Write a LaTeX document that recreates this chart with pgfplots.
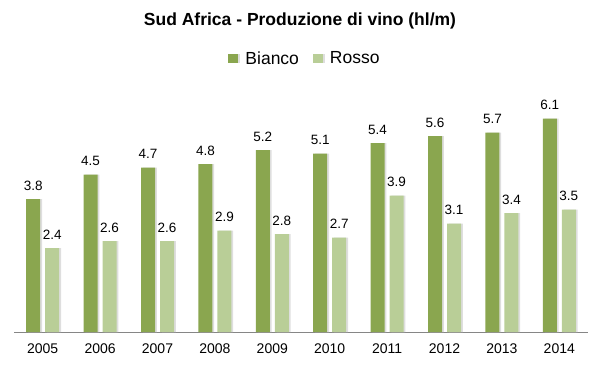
\documentclass[border=0pt]{standalone}
\usepackage{pgfplots}
\pgfplotsset{compat=1.18}
\usepackage{fontspec}
\setmainfont{Liberation Sans}
\definecolor{bianco}{HTML}{8AA64F}
\definecolor{rosso}{HTML}{B9CE97}
\definecolor{axgray}{HTML}{868686}
\begin{document}
\begin{tikzpicture}[x=1pt,y=1pt]
\useasboundingbox (-14,-35) rectangle (588,332);
\begin{axis}[
  at={(0,0)}, anchor=south west,
  scale only axis, width=574pt, height=245pt,
  xmin=-0.5, xmax=9.5, ymin=0, ymax=7,
  axis y line=none,
  axis x line*=bottom,
  x axis line style={color=axgray, line width=1pt},
  xtick={0,...,9},
  xticklabels={2005,2006,2007,2008,2009,2010,2011,2012,2013,2014},
  major tick length=0pt,
  ytick=\empty,
  xticklabel style={font=\fontsize{14}{16}\selectfont, yshift=-8pt},
  ybar=5pt, bar width=14pt,
  legend image code/.code={\fill[#1] (0pt,-4.5pt) rectangle (10pt,4.5pt); \path (15pt,0pt);},
  legend style={draw=none, at={(0.507,1.116)}, anchor=center,
    legend columns=2, font=\fontsize{17.5}{20}\selectfont,
    /tikz/every even column/.append style={column sep=12pt},
    inner sep=0pt},
  nodes near coords,
  every node near coord/.append style={font=\fontsize{13.5}{16}\selectfont, yshift=5pt, black},
  /pgf/number format/.cd, fixed, fixed zerofill, precision=1, assume math mode=true
]
\addplot[fill=bianco, draw=none,
  preaction={fill=black!13, transform canvas={shift={(1.8pt,0pt)}}}] coordinates {
(0,3.8) (1,4.5) (2,4.7) (3,4.8) (4,5.2) (5,5.1) (6,5.4) (7,5.6) (8,5.7) (9,6.1)};
\addplot[fill=rosso, draw=none,
  preaction={fill=black!13, transform canvas={shift={(1.8pt,0pt)}}}] coordinates {
(0,2.4) (1,2.6) (2,2.6) (3,2.9) (4,2.8) (5,2.7) (6,3.9) (7,3.1) (8,3.4) (9,3.5)};
\legend{Bianco,Rosso}
\end{axis}
\node[font=\bfseries\fontsize{17.5}{21}\selectfont] at (286,311) {Sud Africa - Produzione di vino (hl/m)};
\end{tikzpicture}
\end{document}
